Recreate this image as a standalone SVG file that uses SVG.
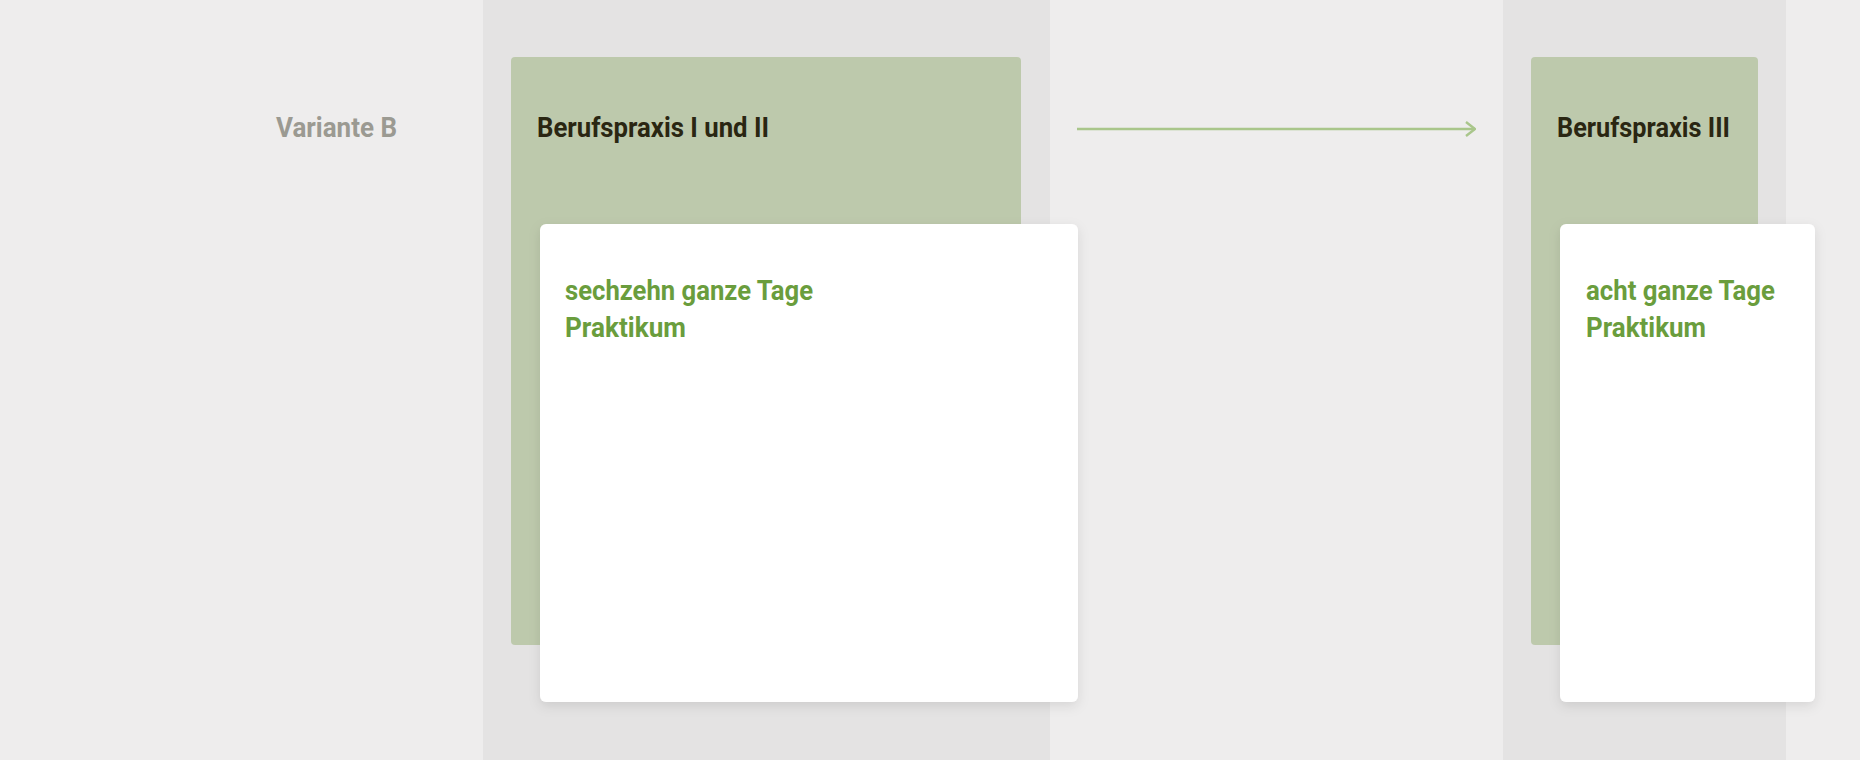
<svg xmlns="http://www.w3.org/2000/svg" width="1860" height="760" viewBox="0 0 1860 760">
<style>
.bg{fill:#eeeded}
.band{fill:#e4e3e3}
.phase{fill:#bdc9ac}
.card{fill:#ffffff;filter:url(#sh)}
.t{font-family:Roboto,"Liberation Sans",sans-serif;font-weight:700;font-size:28px}
.title{fill:#2a2612}
.row{fill:#9b9a92}
.detail{fill:#6a9d3d}
.conn{stroke:#a9c68b;stroke-width:2.6;fill:none}
</style>
<defs>
<filter id="sh" x="-10%" y="-10%" width="120%" height="120%">
<feDropShadow dx="0" dy="4" stdDeviation="6" flood-color="#000" flood-opacity="0.10"/>
</filter>
<marker id="arr" viewBox="0 0 12 16" refX="11" refY="8" markerWidth="12" markerHeight="16" markerUnits="userSpaceOnUse" orient="auto">
<path d="M2,1 L11,8 L2,15" fill="none" stroke="#a9c68b" stroke-width="2.4"/>
</marker>
</defs>
<rect class="bg" x="0" y="0" width="1860" height="760"/>
<rect class="band" x="483" y="0" width="567" height="760"/>
<rect class="band" x="1503" y="0" width="283" height="760"/>
<g id="row-label">
<text class="t row" x="276" y="137" textLength="121" lengthAdjust="spacingAndGlyphs">Variante B</text>
</g>
<g id="phase1">
<rect class="phase" x="511" y="57" width="510" height="588" rx="4"/>
<text class="t title" x="537" y="137" textLength="232" lengthAdjust="spacingAndGlyphs">Berufspraxis I und II</text>
</g>
<g id="card1">
<rect class="card" x="540" y="224" width="538" height="478" rx="6"/>
<text class="t detail" x="565" y="300" textLength="248" lengthAdjust="spacingAndGlyphs">sechzehn ganze Tage</text>
<text class="t detail" x="565" y="337" textLength="121" lengthAdjust="spacingAndGlyphs">Praktikum</text>
</g>
<g id="phase2">
<rect class="phase" x="1531" y="57" width="227" height="588" rx="4"/>
<text class="t title" x="1557" y="137" textLength="173" lengthAdjust="spacingAndGlyphs">Berufspraxis III</text>
</g>
<g id="card2">
<rect class="card" x="1560" y="224" width="255" height="478" rx="6"/>
<text class="t detail" x="1586" y="300" textLength="189" lengthAdjust="spacingAndGlyphs">acht ganze Tage</text>
<text class="t detail" x="1586" y="337" textLength="120" lengthAdjust="spacingAndGlyphs">Praktikum</text>
</g>
<g id="connectors">
<line class="conn" x1="1077" y1="129" x2="1475" y2="129" marker-end="url(#arr)"/>
</g>
</svg>
